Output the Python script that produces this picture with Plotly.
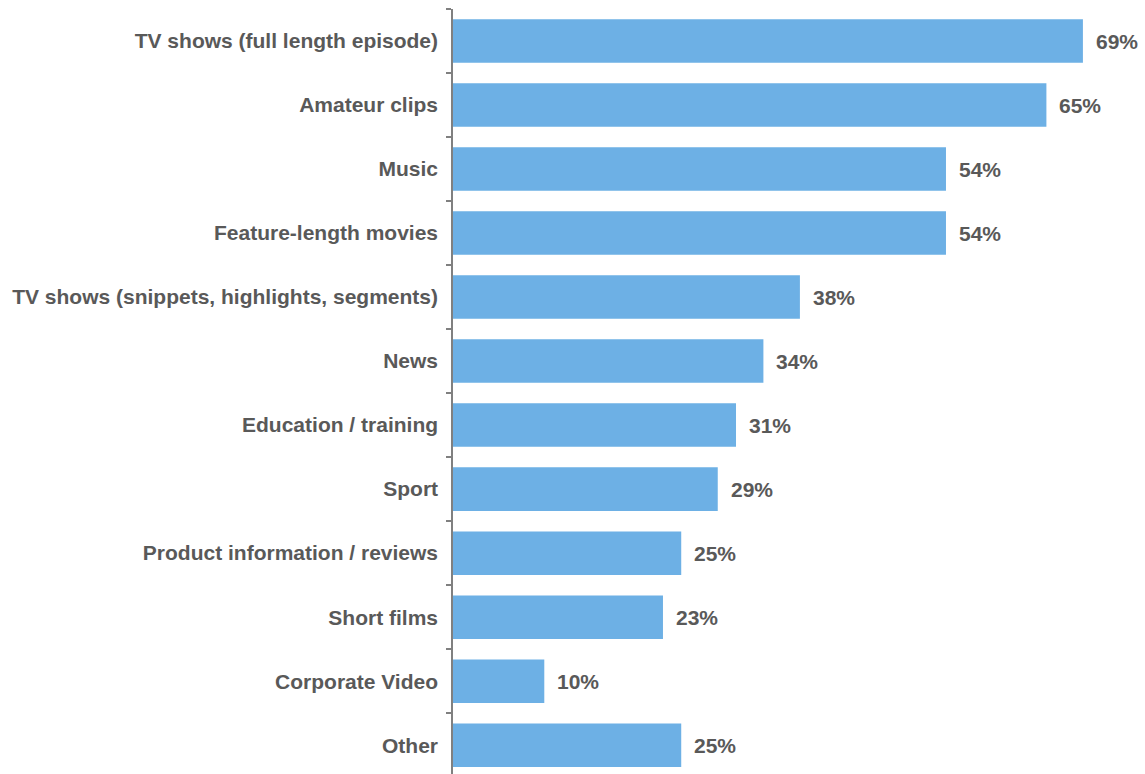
import plotly.graph_objects as go

categories = [
    "TV shows (full length episode)",
    "Amateur clips",
    "Music",
    "Feature-length movies",
    "TV shows (snippets, highlights, segments)",
    "News",
    "Education / training",
    "Sport",
    "Product information / reviews",
    "Short films",
    "Corporate Video",
    "Other",
]
values = [69, 65, 54, 54, 38, 34, 31, 29, 25, 23, 10, 25]

BAR = "#6DB0E5"
TXT = "#595959"
FONT = "Liberation Sans, Arial, sans-serif"

fig = go.Figure(go.Bar(
    x=values, y=categories, orientation="h",
    marker=dict(color=BAR, line=dict(width=0)),
    hoverinfo="skip",
))

for c, v in zip(categories, values):
    fig.add_annotation(
        x=v, y=c, text=f"<b>{v}%</b>", showarrow=False,
        xanchor="left", yanchor="middle", xshift=11, yshift=0,
        font=dict(family=FONT, size=21, color=TXT),
    )

fig.update_layout(
    width=1145, height=774,
    margin=dict(l=453, r=0, t=9, b=0),
    paper_bgcolor="white", plot_bgcolor="white",
    bargap=0.32,
    showlegend=False,
    font=dict(family=FONT, size=21, color=TXT),
    xaxis=dict(range=[0, 75.8], visible=False, fixedrange=True),
    yaxis=dict(
        type="category",
        range=[11.45, -0.5],
        showline=True, linecolor="#808080", linewidth=1.5,
        ticks="outside", ticklen=5, tickcolor="#808080", tickwidth=1.5,
        tickson="boundaries",
        showgrid=False,
        tickfont=dict(family=FONT, size=21, color=TXT, weight="bold"),
        ticklabelstandoff=9,
    ),
)

fig.write_html("out.html")
